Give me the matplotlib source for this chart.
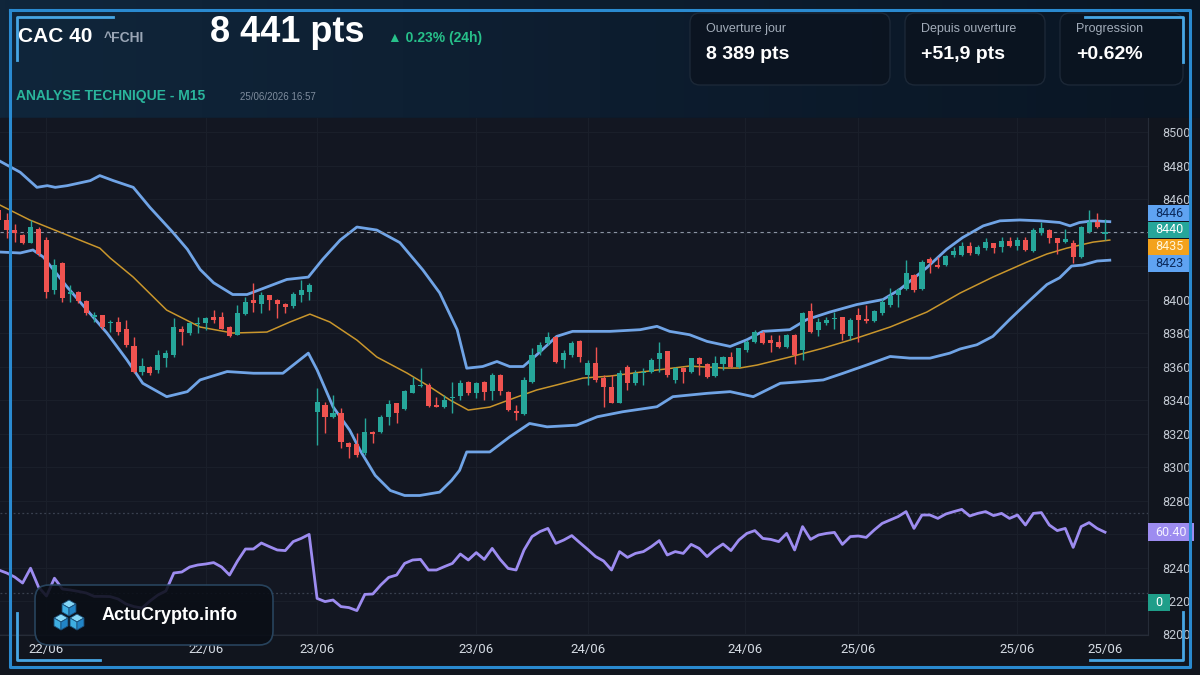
import numpy as np
import matplotlib
matplotlib.use('Agg')
import matplotlib.pyplot as plt
from matplotlib.patches import FancyBboxPatch, Rectangle, Polygon
from matplotlib.colors import LinearSegmentedColormap
from matplotlib.transforms import blended_transform_factory

plt.rcParams['font.family'] = ['Liberation Sans', 'DejaVu Sans']

#=========================== data ===========================

open_ = [8453.4, 8447.4, 8441.4, 8438.5, 8433.9, 8442.4, 8435.5, 8405.6, 8421.6, 8403.6,
         8404.6, 8399.3, 8389.7, 8390.7, 8385.7, 8386.7, 8382.3, 8372.4, 8356.9, 8359.5,
         8357.9, 8364.8, 8366.8, 8382.7, 8379.8, 8385.3, 8385.7, 8389.7, 8389.7, 8383.7,
         8378.8, 8391.3, 8399.7, 8397.3, 8402.6, 8400.0, 8397.3, 8396.1, 8402.6, 8404.6,
         8333.0, 8337.0, 8329.6, 8332.0, 8314.5, 8313.7, 8308.2, 8321.1, 8321.1, 8330.0,
         8338.0, 8334.4, 8344.4, 8348.3, 8348.9, 8337.0, 8336.0, 8341.0, 8342.4, 8350.9,
         8344.0, 8350.9, 8345.6, 8354.9, 8345.0, 8333.6, 8331.6, 8350.9, 8368.8, 8373.8,
         8377.8, 8363.9, 8366.8, 8375.4, 8354.9, 8361.9, 8352.9, 8347.9, 8338.4, 8359.9,
         8349.9, 8355.9, 8356.9, 8364.3, 8369.2, 8351.9, 8358.9, 8356.9, 8364.9, 8361.5,
         8354.3, 8361.5, 8365.9, 8359.9, 8369.8, 8374.8, 8379.8, 8375.8, 8374.8, 8371.8,
         8378.8, 8369.8, 8393.3, 8381.8, 8385.8, 8388.1, 8389.3, 8378.2, 8390.7, 8388.2,
         8387.4, 8391.7, 8396.7, 8402.7, 8406.1, 8414.7, 8406.1, 8424.0, 8420.6, 8420.6,
         8426.6, 8426.6, 8432.0, 8427.2, 8430.6, 8433.6, 8431.2, 8435.2, 8432.0, 8435.5,
         8429.2, 8439.9, 8441.5, 8436.5, 8434.6, 8434.0, 8425.6, 8440.5, 8446.5, 8439.0]

high = [8456.0, 8451.4, 8445.4, 8439.0, 8447.4, 8443.5, 8437.5, 8424.5, 8422.5, 8408.6,
        8405.0, 8400.0, 8392.7, 8391.0, 8387.7, 8389.7, 8387.7, 8377.8, 8364.8, 8360.5,
        8369.8, 8369.8, 8388.7, 8384.0, 8386.7, 8389.7, 8389.7, 8393.7, 8392.7, 8384.0,
        8396.7, 8401.7, 8409.6, 8404.6, 8403.0, 8400.5, 8397.7, 8404.6, 8411.6, 8409.6,
        8346.9, 8339.0, 8343.0, 8335.0, 8315.0, 8320.1, 8329.0, 8321.5, 8331.0, 8340.0,
        8338.5, 8346.0, 8353.9, 8358.9, 8349.9, 8342.0, 8343.0, 8350.9, 8351.9, 8351.5,
        8351.0, 8351.5, 8355.9, 8355.5, 8345.5, 8337.0, 8353.9, 8370.8, 8374.8, 8380.8,
        8378.5, 8369.8, 8375.4, 8376.0, 8363.9, 8371.4, 8354.9, 8354.9, 8357.9, 8360.9,
        8357.9, 8358.9, 8364.9, 8374.8, 8369.5, 8359.9, 8359.9, 8365.3, 8365.9, 8362.0,
        8366.3, 8366.0, 8368.8, 8371.2, 8375.8, 8381.8, 8381.4, 8378.8, 8378.8, 8379.2,
        8379.2, 8392.5, 8397.7, 8388.7, 8389.7, 8392.7, 8389.7, 8388.7, 8394.7, 8396.7,
        8393.7, 8400.1, 8406.7, 8406.7, 8423.6, 8415.5, 8423.6, 8425.6, 8425.6, 8426.5,
        8431.6, 8434.6, 8434.6, 8432.6, 8436.5, 8434.0, 8437.1, 8437.5, 8437.5, 8437.5,
        8442.5, 8446.5, 8442.0, 8437.0, 8441.9, 8435.5, 8443.9, 8453.5, 8451.9, 8447.9]

low = [8446.0, 8436.5, 8434.5, 8433.0, 8433.5, 8426.0, 8400.7, 8403.6, 8398.7, 8398.7,
       8398.0, 8391.0, 8386.7, 8382.5, 8380.8, 8378.8, 8371.8, 8355.9, 8354.9, 8354.9,
       8355.9, 8359.9, 8365.8, 8372.8, 8378.8, 8379.8, 8381.7, 8385.7, 8382.7, 8377.5,
       8378.8, 8390.7, 8392.7, 8391.7, 8393.7, 8388.7, 8392.1, 8394.7, 8398.7, 8399.7,
       8313.1, 8320.1, 8329.0, 8311.1, 8305.2, 8306.2, 8307.2, 8314.1, 8320.1, 8325.1,
       8326.1, 8334.0, 8344.0, 8348.0, 8335.6, 8335.6, 8335.0, 8332.0, 8340.0, 8343.0,
       8341.0, 8340.0, 8340.0, 8343.0, 8333.5, 8328.0, 8331.0, 8349.9, 8366.8, 8372.8,
       8361.9, 8358.9, 8365.9, 8362.9, 8348.9, 8350.9, 8336.0, 8338.0, 8338.0, 8346.0,
       8349.0, 8349.0, 8355.9, 8356.9, 8353.9, 8349.9, 8349.9, 8355.9, 8354.9, 8352.9,
       8353.9, 8357.9, 8358.9, 8359.3, 8368.8, 8374.2, 8373.4, 8368.8, 8370.8, 8370.8,
       8361.5, 8363.9, 8380.2, 8378.2, 8384.8, 8382.2, 8375.8, 8375.8, 8374.8, 8385.8,
       8386.8, 8390.7, 8395.7, 8395.4, 8405.7, 8404.7, 8405.7, 8415.7, 8418.6, 8420.0,
       8425.6, 8426.0, 8426.6, 8426.4, 8429.6, 8427.6, 8428.6, 8431.2, 8429.6, 8429.2,
       8428.6, 8438.5, 8433.6, 8427.2, 8433.6, 8421.6, 8424.6, 8439.5, 8442.5, 8435.5]

close = [8447.4, 8441.4, 8439.5, 8433.9, 8443.4, 8427.1, 8404.6, 8420.6, 8400.7, 8404.6,
         8399.3, 8392.1, 8390.7, 8383.7, 8386.7, 8380.8, 8372.8, 8356.9, 8360.3, 8356.3,
         8366.8, 8367.8, 8383.7, 8380.8, 8385.7, 8386.1, 8388.7, 8387.7, 8382.7, 8378.2,
         8391.7, 8398.7, 8397.7, 8402.6, 8399.7, 8397.3, 8395.7, 8403.6, 8405.6, 8408.6,
         8339.0, 8330.0, 8332.4, 8315.1, 8312.1, 8307.2, 8321.1, 8319.7, 8330.0, 8337.6,
         8332.4, 8345.6, 8348.9, 8348.9, 8336.4, 8336.0, 8340.0, 8342.0, 8349.9, 8344.0,
         8350.3, 8345.0, 8354.9, 8345.6, 8334.0, 8332.4, 8351.9, 8366.8, 8372.8, 8377.8,
         8362.9, 8367.8, 8373.8, 8365.9, 8361.9, 8351.9, 8347.9, 8338.4, 8355.9, 8349.9,
         8355.9, 8356.9, 8363.9, 8368.2, 8354.9, 8358.9, 8356.9, 8364.9, 8361.5, 8353.5,
         8362.3, 8365.5, 8359.9, 8370.8, 8374.8, 8380.8, 8373.8, 8374.2, 8371.8, 8378.8,
         8366.8, 8392.1, 8380.8, 8386.7, 8387.7, 8389.1, 8379.4, 8387.7, 8387.7, 8387.4,
         8393.3, 8398.7, 8402.1, 8405.7, 8415.7, 8405.7, 8422.6, 8421.6, 8419.6, 8426.0,
         8429.0, 8432.0, 8427.6, 8431.2, 8434.6, 8430.6, 8435.2, 8432.0, 8435.5, 8429.6,
         8441.5, 8442.5, 8436.5, 8433.6, 8436.0, 8425.6, 8443.5, 8446.5, 8443.5, 8440.6]

# Bollinger bands and middle average, read at points along the curves (candle index, price)
upper_idx = [0, 2.7, 4.8, 6.1, 7.1, 8.6, 11.5, 12.7, 14.4, 16.9,
             19.0, 21.9, 23.7, 25.3, 27.0, 29.4, 31.2, 33.7, 36.2, 38.9,
             40.7, 42.9, 45.0, 47.5, 50.4, 53.3, 55.4, 57.6, 58.8, 60.8,
             62.6, 64.2, 65.9, 67.6, 70.1, 72.1, 76.8, 80.6, 82.7, 84.3,
             86.8, 89.0, 91.9, 94.0, 96.0, 99.4, 101.5, 104.4, 107.8, 111.1,
             113.2, 116.6, 119.1, 121.1, 123.7, 125.8, 128.3, 130.8, 133.3, 134.6,
             135.8, 137.5, 139.6]
upper_val = [8483, 8476, 8467, 8468, 8467, 8468, 8471, 8474, 8471, 8467,
             8455, 8440, 8430, 8418, 8410, 8403, 8403, 8407.5, 8412, 8413.4,
             8424, 8435.5, 8443.3, 8441.5, 8434, 8417.6, 8404, 8382, 8359, 8360,
             8363, 8360, 8360, 8367, 8378, 8381, 8381, 8382, 8384, 8381,
             8379, 8375, 8372, 8376, 8381, 8382, 8388, 8392.5, 8397, 8400,
             8406, 8419, 8430, 8437, 8444, 8447, 8447.5, 8447, 8446, 8444,
             8446, 8447, 8446.5]

lower_idx = [0, 2.7, 4.3, 5.6, 8.6, 11.1, 13.6, 16.1, 18.1, 21.1,
             23.7, 25.3, 28.7, 32.0, 35.7, 38.9, 40.0, 42.0, 44.1, 45.4,
             47.3, 49.2, 51.0, 52.9, 55.4, 56.9, 57.9, 58.8, 61.7, 64.2,
             66.7, 68.9, 72.6, 75.2, 78.4, 82.7, 84.7, 89.0, 91.9, 94.8,
             96.5, 98.2, 101.1, 103.6, 106.1, 109.1, 112.0, 114.5, 117.0, 119.5,
             120.8, 122.9, 124.9, 127.0, 129.2, 131.7, 133.3, 134.8, 136.2, 138.0,
             139.6]
lower_val = [8428.4, 8427.8, 8429.6, 8425.4, 8407.5, 8393.7, 8380, 8364, 8350, 8342,
             8345, 8352, 8357, 8356, 8356, 8368, 8358, 8336, 8322, 8310,
             8295, 8286, 8283, 8283, 8285, 8292, 8298, 8309, 8309, 8318,
             8326, 8324, 8325, 8330, 8333, 8336, 8342, 8344, 8345, 8342,
             8346, 8350, 8351, 8352, 8356, 8361, 8366, 8365, 8365, 8368,
             8370.5, 8373, 8378, 8388, 8398, 8409, 8413, 8420, 8420.6, 8423,
             8423.5]

sma_idx = [0.16, 3.9, 6.4, 12.7, 14.0, 16.9, 21.1, 25.3, 29.4, 33.7,
           36.6, 39.1, 41.6, 45.0, 47.5, 51.3, 54.2, 56.7, 59.0, 61.7,
           65.1, 67.6, 70.1, 73.4, 76.8, 82.7, 86.8, 91.0, 93.1, 95.3,
           99.4, 103.6, 107.8, 112.0, 116.6, 120.8, 124.9, 129.2, 131.7, 134.2,
           137.5, 139.6]
sma_val = [8456.4, 8447.5, 8442.7, 8430.7, 8424.8, 8413.4, 8393.7, 8383.6, 8380, 8380.6,
           8386.6, 8391.3, 8386.6, 8375.8, 8365.7, 8356.1, 8347.8, 8340, 8334, 8335.8,
           8341.8, 8346, 8349, 8353.1, 8354.3, 8357.9, 8360.3, 8359.1, 8359.1, 8360.9,
           8365.7, 8371, 8377, 8383.6, 8392.5, 8403.9, 8413.4, 8422.4, 8427.2, 8430.7,
           8434.3, 8435.5]

rsi = [41.5, 40, 38, 35, 42.4, 33, 28.5, 37.4, 32, 31.5,
       30.8, 30, 28.3, 28.3, 28.2, 27, 24.5, 23.2, 22.5, 26,
       29, 31, 40, 40.5, 43, 44, 44.5, 45.2, 43, 39,
       46, 52, 52, 55, 53.2, 51.5, 51.2, 55.7, 57.3, 59.3,
       27.3, 25.7, 26.5, 23.2, 22.7, 21.2, 29.3, 29.5, 34, 37.8,
       39, 44.8, 46.5, 46.8, 41.5, 41.5, 43.2, 44.8, 49.5, 46.5,
       50.2, 46.8, 52.3, 46.8, 42.3, 41.5, 51.5, 58.2, 60.7, 62.3,
       54.8, 56.5, 58.7, 55.2, 51.8, 48.2, 46, 41.5, 50.7, 47.8,
       49.8, 50.7, 53.2, 56.2, 49, 50.7, 49.8, 54.3, 52.3, 48.2,
       51.8, 54.5, 51.2, 56.5, 59.8, 61.2, 57.3, 56.8, 55.7, 59.8,
       51.5, 63.2, 56.8, 59, 59.8, 60.3, 54.3, 58.2, 58.5, 57.8,
       61.5, 64.8, 66.5, 68.2, 70.7, 62.3, 69, 69, 67.3, 69.5,
       70.7, 71.8, 68.5, 69.8, 70.7, 68.7, 69.8, 67.3, 69, 64,
       69.8, 70.2, 64, 61.2, 62.3, 52.8, 63.2, 65.2, 62.3, 60.4]

tick_idx = [6, 26, 40, 60, 74, 93.8, 108, 128, 139]
tick_lbl = ['22/06', '22/06', '23/06', '23/06', '24/06', '24/06', '25/06', '25/06', '25/06']
price_ticks = list(range(8200, 8501, 20))

open_day = 8389
since_open = 51.9
progression = 0.62
change_24h = 0.23

#=================================== figure =====================================

open_ = np.array(open_); high = np.array(high); low = np.array(low); close = np.array(close)
idx = np.arange(len(close))

W, H = 1200, 675
fig = plt.figure(figsize=(12, 6.75), dpi=100)
fig.patch.set_facecolor('#0a121c')


def px_box(x0, y0, x1, y1):
    return [x0 / W, 1 - y1 / H, (x1 - x0) / W, (y1 - y0) / H]


# background + header gradient
bg = fig.add_axes([0, 0, 1, 1], zorder=0)
head_cmap = LinearSegmentedColormap.from_list('head', ['#10263b', '#0d1d2f', '#0a1624'])
bg.imshow(np.linspace(0, 1, 256).reshape(1, -1), extent=(0, W, 118, 0), cmap=head_cmap, aspect='auto')
bg.add_patch(Rectangle((0, 118), W, H - 118, color='#11151e'))
bg.set_xlim(0, W); bg.set_ylim(H, 0); bg.axis('off')

# price panel
ax = fig.add_axes(px_box(0, 118, 1148, 635), zorder=1)
ax.set_facecolor('#131722')
ax.set_xlim(0.16, 144.4)
ax.set_ylim(8199.7, 8508.4)

# RSI panel laid over the lower part (same box, own scale)
rx = fig.add_axes(px_box(0, 118, 1148, 635), zorder=2, sharex=ax)
rx.patch.set_alpha(0)
rx.set_ylim(9, 267.5)
rx.axis('off')

for t in price_ticks:
    ax.axhline(t, color='#1a1f2a', lw=0.8, zorder=0)
for t in tick_idx:
    ax.axvline(t, color='#1a1f2a', lw=0.8, zorder=0)

up = close >= open_
col = np.where(up, '#26a69a', '#ef5350')
ax.vlines(idx, low, high, colors=col, lw=1, zorder=3)
ax.bar(idx, np.maximum(np.abs(close - open_), 0.6), bottom=np.minimum(open_, close),
       width=0.64, color=col, zorder=4)

ax.plot(upper_idx, upper_val, color='#70a4e6', lw=2, zorder=2)
ax.plot(lower_idx, lower_val, color='#70a4e6', lw=2, zorder=2)
ax.plot(sma_idx, sma_val, color='#c9962c', lw=1.1, zorder=2)
ax.axhline(close[-1], color='#8b94a3', lw=0.8, ls=(0, (3, 3)), zorder=2)

# last-value labels on the price scale, stacked around their mean
last_vals = [upper_val[-1], close[-1], sma_val[-1], lower_val[-1]]
last_fc = ['#5fa3f2', '#26a69a', '#f3a21c', '#5fa3f2']
last_tc = ['#0b2a5c', '#ffffff', '#fff4d6', '#0b2a5c']
mid = np.mean(last_vals)
label_pos = [mid + 10 * (1.5 - k) for k in range(len(last_vals))]

# price equivalent of the RSI label, so the tick under it is hidden like in the source
rsi_disp = rx.transData.transform((0, rsi[-1]))
rsi_as_price = ax.transData.inverted().transform(rsi_disp)[1]
covered = label_pos + [rsi_as_price]

ax.yaxis.tick_right()
ax.set_yticks(price_ticks,
              ['' if min(abs(t - c) for c in covered) < 7 else str(t) for t in price_ticks])
ax.tick_params(axis='y', length=0, pad=10, labelcolor='#c3c9d2', labelsize=9)
ax.set_xticks(tick_idx, tick_lbl)
ax.tick_params(axis='x', length=0, pad=6, labelcolor='#d5dbe3', labelsize=9.5)
for lbl in ax.get_yticklabels() + ax.get_xticklabels():
    lbl.set_fontfamily('Roboto')
for s in ['top', 'left']:
    ax.spines[s].set_visible(False)
for s in ['right', 'bottom']:
    ax.spines[s].set_color('#262c38')

tr = blended_transform_factory(ax.transAxes, ax.transData)
for v, yp, fc, tc in zip(last_vals, label_pos, last_fc, last_tc):
    ax.add_patch(Rectangle((1.0, yp - 4.9), 0.037, 9.8, transform=tr, fc=fc, ec='none',
                           clip_on=False, zorder=10))
    ax.text(1.0185, yp, f'{int(v)}', transform=tr, ha='center', va='center', color=tc,
            fontsize=9, fontfamily='Roboto', zorder=11, clip_on=False)

rx.axhline(70, color='#3a4150', lw=0.9, ls=(0, (1.5, 2)))
rx.axhline(30, color='#3a4150', lw=0.9, ls=(0, (1.5, 2)))
rx.plot(idx, rsi, color='#9d8cf0', lw=2, zorder=3)
rtr = blended_transform_factory(rx.transAxes, rx.transData)
rx.add_patch(Rectangle((1.0, rsi[-1] - 4.5), 0.04, 9, transform=rtr, fc='#9d8cf0', ec='none',
                       clip_on=False, zorder=10))
rx.text(1.02, rsi[-1], f'{rsi[-1]:.2f}', transform=rtr, ha='center', va='center', color='#f4f2ff',
        fontsize=9, fontfamily='Roboto', zorder=11, clip_on=False)

#=================================== overlay =====================================

ov = fig.add_axes([0, 0, 1, 1], zorder=5)
ov.set_xlim(0, W); ov.set_ylim(H, 0); ov.axis('off')
ov.patch.set_alpha(0)

# "0" marker on scale
ov.add_patch(Rectangle((1148, 594), 22, 17, fc='#1f9e89', ec='none'))
ov.text(1159, 602.5, '0', ha='center', va='center', color='white', fontsize=9, fontfamily='Roboto')

# frame
ov.plot([10, 1190, 1190, 10, 10], [10, 10, 667, 667, 10], color='#2a8ad0', lw=2.2)
acc = '#47a6e4'
ov.plot([17, 17, 113], [60, 17, 17], color=acc, lw=2)
ov.plot([1085, 1183, 1183], [17, 17, 62], color=acc, lw=2)
ov.plot([17, 17, 100], [613, 660, 660], color=acc, lw=2)
ov.plot([1090, 1183, 1183], [660, 660, 612], color=acc, lw=2)

# header text
ov.text(18, 42, 'CAC 40', color='white', fontsize=15, fontweight='bold')
ov.text(104, 42, '^FCHI', color='#9aa6b6', fontsize=10, fontweight='bold')
ov.text(210, 42, f'{int(round(close[-1])):,} pts'.replace(',', ' '), color='white',
        fontsize=26, fontweight='bold')
ov.text(388, 42, f'▲ {change_24h:.2f}% (24h)', color='#27c08a', fontsize=10, fontweight='bold',
        family=['Liberation Sans', 'DejaVu Sans'])
ov.text(16, 100, 'ANALYSE TECHNIQUE - M15', color='#2ab59c', fontsize=10, fontweight='bold')
ov.text(240, 100, '25/06/2026 16:57', color='#7f8d9e', fontsize=7)

stats = [(690, 200, 'Ouverture jour', f'{open_day:,} pts'.replace(',', ' ')),
         (905, 140, 'Depuis ouverture', f'+{since_open:.1f} pts'.replace('.', ',')),
         (1060, 123, 'Progression', f'+{progression:.2f}%')]
for x0, w, lab, val in stats:
    ov.add_patch(FancyBboxPatch((x0, 13), w, 72, boxstyle='round,pad=0,rounding_size=10',
                                fc='#0b1420', ec='#1e2a39', lw=1, alpha=0.9))
    ov.text(x0 + 16, 32, lab, color='#a3adba', fontsize=9)
    ov.text(x0 + 16, 59, val, color='white', fontsize=14, fontweight='bold')

# logo
ov.add_patch(FancyBboxPatch((35, 585), 238, 60, boxstyle='round,pad=0,rounding_size=14',
                            fc='#0a0e16', ec='#2b4a66', lw=1.2, alpha=0.88))


def cube(cx, cy, s):
    k = 0.87 * s
    ov.add_patch(Polygon([(cx, cy - s), (cx + k, cy - s / 2), (cx, cy), (cx - k, cy - s / 2)],
                         fc='#86d8f7', ec='#1b4f7a', lw=0.6))
    ov.add_patch(Polygon([(cx - k, cy - s / 2), (cx, cy), (cx, cy + s), (cx - k, cy + s / 2)],
                         fc='#3eaee2', ec='#1b4f7a', lw=0.6))
    ov.add_patch(Polygon([(cx, cy), (cx + k, cy - s / 2), (cx + k, cy + s / 2), (cx, cy + s)],
                         fc='#2184c6', ec='#1b4f7a', lw=0.6))


cube(69, 608, 8)
cube(61, 622, 8)
cube(77, 622, 8)
ov.text(102, 620, 'ActuCrypto.info', color='white', fontsize=13, fontweight='bold')

fig.savefig('out.png', dpi=100, facecolor=fig.get_facecolor())
